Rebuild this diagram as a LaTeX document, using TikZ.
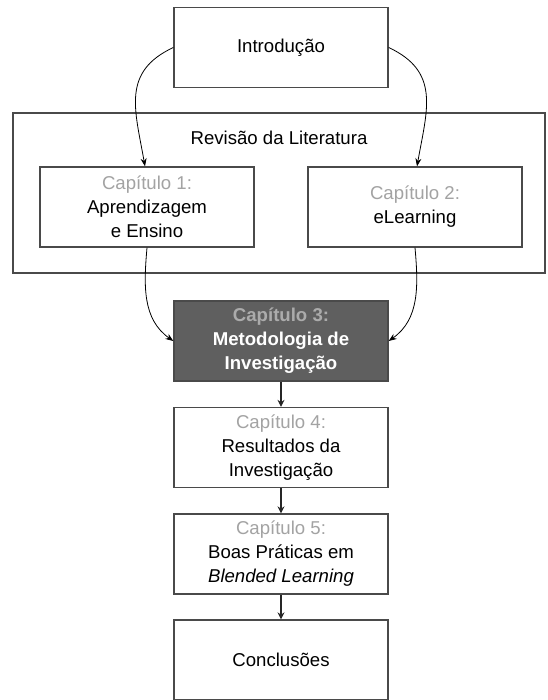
\documentclass[tikz,border=0pt]{standalone}
\usepackage{fontspec}
\setmainfont{Liberation Sans}
\usetikzlibrary{arrows.meta}
\definecolor{boxline}{HTML}{4A4A4A}
\definecolor{chapgray}{HTML}{A3A3A3}
\definecolor{darkfill}{HTML}{5F5F5F}
\definecolor{darkchap}{HTML}{ABABAB}
\tikzset{
  chapbox/.style={draw=boxline, line width=1.3pt, fill=white, rectangle,
    minimum width=214pt, minimum height=80pt, inner sep=0pt, align=center,
    font=\fontsize{18.6}{24}\selectfont},
  darkbox/.style={chapbox, fill=darkfill, draw=boxline, text=white,
    font=\fontsize{18.6}{24}\selectfont\bfseries},
  groupbox/.style={draw=boxline, line width=1.3pt, rectangle,
    minimum width=532pt, minimum height=160pt, inner sep=0pt},
  grouplabel/.style={font=\fontsize{18.6}{24}\selectfont, inner sep=0pt},
  flow/.style={draw=black, line width=0.8pt, -{Stealth[length=8pt,width=6pt]}},
  chain/.style={draw=black!85, line width=1.2pt, -{Stealth[length=7pt,width=7pt]}}
}
\newcommand{\chaplabel}[1]{\textcolor{chapgray}{#1}}
\begin{document}
\begin{tikzpicture}[x=1pt,y=-1pt]
  \useasboundingbox (0,0) rectangle (547,700);
  % literature review group
  \node[groupbox] (rev) at (279,193) {};
  \node[grouplabel] (revlabel) at (279,138) {Revisão da Literatura};
  % chapters
  \node[chapbox] (intro) at (281,47.5) {Introdução};
  \node[chapbox] (c1) at (147,207) {\chaplabel{Capítulo 1:}\\Aprendizagem\\e Ensino};
  \node[chapbox] (c2) at (415,207) {\chaplabel{Capítulo 2:}\\eLearning};
  \node[darkbox] (c3) at (281,341) {\textcolor{darkchap}{Capítulo 3:}\\Metodologia de\\Investigação};
  \node[chapbox] (c4) at (281,447.5) {\chaplabel{Capítulo 4:}\\Resultados da\\Investigação};
  \node[chapbox] (c5) at (281,554) {\chaplabel{Capítulo 5:}\\Boas Práticas em\\\textit{Blended Learning}};
  \node[chapbox] (concl) at (281,660) {Conclusões};
  % connectors
  \draw[flow] (intro.west) to[out=205,in=100,looseness=1.2] ([xshift=-2pt]c1.north);
  \draw[flow] (intro.east) to[out=-25,in=80,looseness=1.2] ([xshift=2pt]c2.north);
  \draw[flow] (c1.south) to[out=-95,in=145] (c3.west);
  \draw[flow] (c2.south) to[out=-85,in=35] (c3.east);
  \draw[chain] (c3) -- (c4);
  \draw[chain] (c4) -- (c5);
  \draw[chain] (c5) -- (concl);
\end{tikzpicture}
\end{document}
